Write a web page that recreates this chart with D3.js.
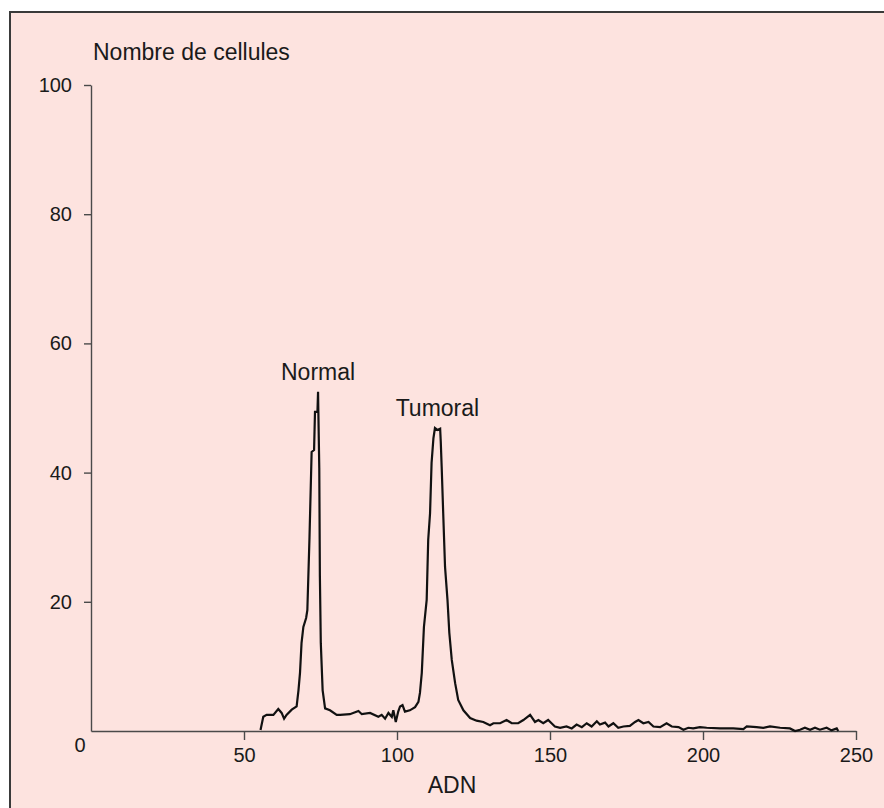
<!DOCTYPE html>
<html>
<head>
<meta charset="utf-8">
<script src="https://cdn.jsdelivr.net/npm/d3@7"></script>
<style>
  html, body { margin: 0; padding: 0; background: #ffffff; }
  svg { display: block; }
  text { font-family: "Liberation Sans", Arial, Helvetica, sans-serif; fill: #1a1a1a; }
</style>
</head>
<body>
<svg id="chart" width="884" height="808"></svg>
<script>
// ---- Data ----
const adn = [
  55.4, 56.3, 57.4, 59.6, 61.2, 62.3, 63.1, 63.9, 65.6, 67.2, 67.8, 68.3, 68.8, 69.4, 70.3, 70.7,
  71.4, 72.1, 72.9, 73.2, 74.0, 74.2, 74.3, 74.6, 74.8, 75.1, 75.7, 76.5, 78.1, 80.3, 81.4, 84.6,
  87.4, 88.5, 91.2, 93.9, 95.0, 96.1, 97.2, 98.3, 98.8, 99.6, 100.4, 101.0, 101.8, 102.6, 104.2,
  105.9, 107.0, 107.5, 108.1, 108.8, 109.7, 110.2, 110.8, 111.3, 111.9, 112.4, 113.2, 114.1,
  114.3, 114.6, 115.1, 115.7, 116.5, 117.1, 117.9, 119.0, 120.0, 121.7, 123.9, 126.0, 128.2,
  130.4, 131.5, 133.7, 135.8, 137.5, 139.6, 141.3, 143.5, 145.1, 146.2, 147.8, 149.4, 150.5,
  151.6, 153.3, 155.4, 157.1, 158.7, 160.4, 162.0, 163.6, 165.3, 166.3, 168.0, 169.1, 170.7,
  172.3, 174.0, 176.1, 177.8, 178.9, 180.5, 182.2, 183.8, 186.0, 188.1, 189.8, 192.0, 193.6,
  195.2, 196.8, 199.0, 201.2, 205.6, 209.9, 213.2, 214.3, 217.5, 219.7, 221.9, 225.2, 228.4,
  230.1, 231.7, 233.3, 235.0, 236.6, 238.2, 240.4, 242.0, 243.7, 244.2
];
const cellules = [
  0.15, 2.2, 2.5, 2.5, 3.4, 2.8, 1.9, 2.5, 3.3, 3.8, 6.3, 9.0, 13.6, 16.1, 17.5, 18.7,
  29.9, 43.2, 43.5, 49.4, 49.4, 52.5, 49.4, 40.7, 23.9, 13.6, 6.3, 3.5, 3.2, 2.5, 2.5, 2.6,
  3.1, 2.6, 2.8, 2.2, 2.5, 1.9, 2.8, 2.2, 3.2, 1.4, 3.0, 3.8, 4.0, 3.0, 3.2,
  3.7, 4.5, 5.9, 9.0, 16.1, 20.3, 29.6, 33.7, 41.5, 45.3, 46.9, 46.6, 46.8,
  44.8, 40.9, 33.7, 25.4, 20.3, 15.2, 11.0, 7.4, 4.8, 3.2, 2.0, 1.6, 1.4,
  0.9, 1.2, 1.2, 1.7, 1.2, 1.2, 1.7, 2.5, 1.4, 1.7, 1.2, 1.7, 1.2,
  0.7, 0.5, 0.7, 0.4, 1.0, 0.6, 1.2, 0.7, 1.5, 1.0, 1.3, 0.7, 1.2,
  0.5, 0.7, 0.8, 1.4, 1.7, 1.2, 1.4, 0.7, 0.6, 1.2, 0.7, 0.6, 0.2,
  0.5, 0.4, 0.6, 0.5, 0.4, 0.4, 0.3, 0.7, 0.6, 0.5, 0.7, 0.5, 0.4,
  0.0, 0.2, 0.5, 0.2, 0.5, 0.2, 0.5, 0.1, 0.4, 0.0
];
const xTicks = [50, 100, 150, 200, 250];
const yTicks = [20, 40, 60, 80, 100];
const peakLabels = [
  { text: "Normal", x: 74.2, y: 52.5 },
  { text: "Tumoral", x: 113.2, y: 46.9 }
];
const yTitle = "Nombre de cellules";
const xTitle = "ADN";

// ---- Drawing ----
const svg = d3.select("#chart");

// panel background with frame (only top & left visible)
svg.append("rect")
  .attr("x", 10).attr("y", 12)
  .attr("width", 900).attr("height", 820)
  .attr("fill", "#fde3df")
  .attr("stroke", "#3a3a3a").attr("stroke-width", 2);

const x = d3.scaleLinear().domain([0, 250]).range([91, 856]);
const y = d3.scaleLinear().domain([0, 100]).range([731, 85]);

// x axis
const xAxis = d3.axisBottom(x).tickValues(xTicks).tickSize(9).tickPadding(8).tickSizeOuter(0);
const gx = svg.append("g").attr("transform", `translate(0,${y(0)})`).call(xAxis);
gx.select(".domain").attr("stroke", "#4a4a4a").attr("stroke-width", 1.4);
gx.selectAll(".tick line").attr("stroke", "#4a4a4a").attr("stroke-width", 1.4);
gx.selectAll(".tick text")
  .style("font-size", "20px").style("font-family", "'Liberation Sans', Arial, sans-serif")
  .attr("fill", "#1a1a1a");

// y axis
const yAxis = d3.axisLeft(y).tickValues(yTicks).tickSize(7).tickPadding(12).tickSizeOuter(0);
const gy = svg.append("g").attr("transform", `translate(${x(0)},0)`).call(yAxis);
gy.select(".domain").attr("stroke", "#4a4a4a").attr("stroke-width", 1.4);
gy.selectAll(".tick line").attr("stroke", "#4a4a4a").attr("stroke-width", 1.4);
gy.selectAll(".tick text")
  .style("font-size", "20px").style("font-family", "'Liberation Sans', Arial, sans-serif")
  .attr("fill", "#1a1a1a");

// shared origin label
svg.append("text")
  .attr("x", x(0) - 11).attr("y", y(0) + 21)
  .attr("text-anchor", "middle")
  .style("font-size", "20px")
  .text("0");

// histogram trace
const pts = adn.map((d, i) => [d, cellules[i]]);
const line = d3.line().x(d => x(d[0])).y(d => y(d[1])).curve(d3.curveLinear);
svg.append("path")
  .datum(pts)
  .attr("d", line)
  .attr("fill", "none")
  .attr("stroke", "#111")
  .attr("stroke-width", 2.2)
  .attr("stroke-linejoin", "miter");

// peak labels
svg.selectAll(".peak")
  .data(peakLabels)
  .enter().append("text")
  .attr("class", "peak")
  .attr("x", d => x(d.x))
  .attr("y", d => y(d.y) - 12)
  .attr("text-anchor", "middle")
  .style("font-size", "23px")
  .text(d => d.text);

// axis titles
svg.append("text")
  .attr("x", 93).attr("y", 60)
  .style("font-size", "23px")
  .text(yTitle);

svg.append("text")
  .attr("x", 452).attr("y", 793)
  .attr("text-anchor", "middle")
  .style("font-size", "23px")
  .text(xTitle);
</script>
</body>
</html>
